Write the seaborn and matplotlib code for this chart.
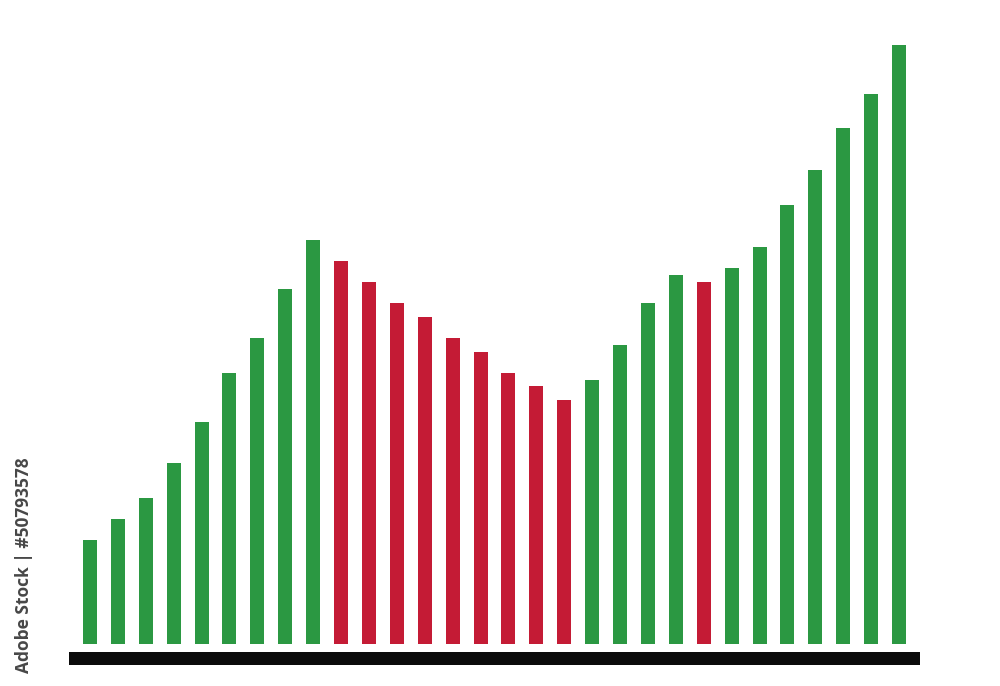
import matplotlib
matplotlib.use("Agg")
import matplotlib.pyplot as plt
import seaborn as sns

# heights of the 30 bars
valores = [104, 125, 146, 181, 222, 271, 306, 355, 404,
           383, 362, 341, 327, 306, 292, 271, 258, 244,
           264, 299, 341, 369, 362, 376, 397, 439, 474, 516, 550, 599]
# direção de cada barra: alta (verde) ou baixa (vermelha)
direcao = ["alta"] * 9 + ["baixa"] * 9 + ["alta"] * 4 + ["baixa"] + ["alta"] * 7
indices = list(range(len(valores)))

cores = {"alta": "#2b9842", "baixa": "#c41b35"}

sns.set_style("white")
fig = plt.figure(figsize=(10, 6.86), dpi=100)
ax = fig.add_axes([0.069, 1 - 665 / 686, 0.851, 665 / 686])

sns.barplot(x=indices, y=valores, hue=direcao, palette=cores, saturation=1,
            width=0.5, linewidth=0, legend=False, dodge=False, ax=ax)

# base preta
ax.axhspan(-21, -8, color="#0b0b0b", lw=0)

ax.set_xlim(-0.75, 29.75)
ax.set_ylim(-21, 644)
ax.set_axis_off()

fig.text(0.024, 1 - 565 / 686, "Adobe Stock | #50793578", rotation=90,
         ha="center", va="center", fontsize=12.5, fontweight="bold",
         color="#474747", family=["Open Sans", "DejaVu Sans"])

fig.savefig("out.png", dpi=100)
